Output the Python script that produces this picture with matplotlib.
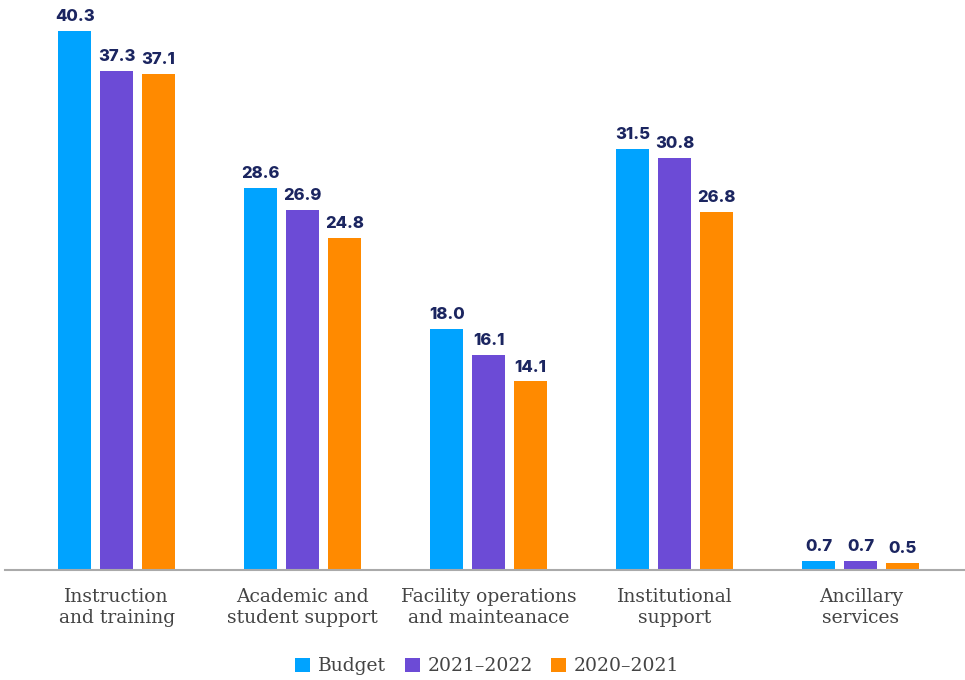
import numpy as np
import matplotlib.pyplot as plt

# --- dados ---
categories = ["Instruction\nand training", "Academic and\nstudent support",
              "Facility operations\nand mainteanace", "Institutional\nsupport",
              "Ancillary\nservices"]
series_names = ["Budget", "2021\u20132022", "2020\u20132021"]
budget = [40.3, 28.6, 18.0, 31.5, 0.7]
y2021_2022 = [37.3, 26.9, 16.1, 30.8, 0.7]
y2020_2021 = [37.1, 24.8, 14.1, 26.8, 0.5]

colors = ["#00a3ff", "#6c4bd6", "#ff8a00"]
label_color = "#1b2560"
serif = ["DejaVu Serif"]

fig = plt.figure(figsize=(9.65, 6.8), dpi=100)
ax = fig.add_axes([5 / 965, 110 / 680, 960 / 965, 570 / 680])

x = np.arange(len(categories))
width = 33 / 186
pitch = 42 / 186

for i, (vals, name, col) in enumerate(zip([budget, y2021_2022, y2020_2021], series_names, colors)):
    pos = x + (i - 1) * pitch
    bars = ax.bar(pos, vals, width=width, color=col, label=name, zorder=2)
    for b, v in zip(bars, vals):
        ax.annotate(f"{v:.1f}", (b.get_x() + b.get_width() / 2, v),
                    xytext=(0, 5), textcoords="offset points",
                    ha="center", va="bottom", fontsize=12, fontweight=800,
                    color=label_color, family=["Inter", "DejaVu Sans"])

ax.set_xlim(-0.6, 4.56)
ax.set_ylim(0, 42.63)

for s in ["top", "right", "left"]:
    ax.spines[s].set_visible(False)
ax.spines["bottom"].set_color("#aaaaaa")
ax.spines["bottom"].set_linewidth(1.5)
ax.set_yticks([])
ax.set_xticks(x)
ax.set_xticklabels(categories, fontsize=13.5, color="#444444", family=serif, linespacing=1.2)
ax.tick_params(axis="x", length=0, pad=13)

leg = fig.legend(loc="lower center", bbox_to_anchor=(0.505, -0.018), ncol=3, frameon=False,
                 prop={"family": serif, "size": 13.5}, handlelength=0.8, handleheight=0.8,
                 handletextpad=0.4, columnspacing=1.0)
for t in leg.get_texts():
    t.set_color("#444444")

fig.savefig("out.png", dpi=100)
